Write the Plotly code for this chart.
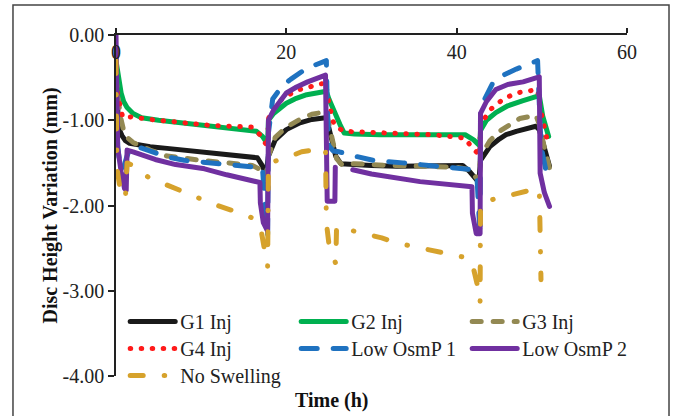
import plotly.graph_objects as go

# Axis ticks
time_ticks = [0, 20, 40, 60]
time_tick_text = ["0", "20", "40", "60"]
height_ticks = [0, -1, -2, -3, -4]
height_tick_text = ["0.00", "-1.00", "-2.00", "-3.00", "-4.00"]

# G1 Inj
g1_t = [0.0, 0.15, 0.35, 0.7, 1.1, 1.6, 2.5, 4, 6, 8, 10, 12, 14, 16, 16.6, 17.1, 17.6, 17.9,
        18.7, 20, 21.6, 23, 24.6, 24.9, 25.3, 25.8, 26.4, 27.5, 30, 33, 36, 38, 40.7, 41.5,
        42.6, 42.8, 43.9, 45, 45.8, 47, 47.8, 49.3, 49.7, 50.3, 50.9]
g1_v = [-0.55, -0.95, -1.10, -1.18, -1.24, -1.27, -1.29, -1.31, -1.33, -1.35, -1.37, -1.39,
        -1.40, -1.42, -1.44, -1.52, -1.63, -1.42, -1.23, -1.11, -1.03, -0.99, -0.97, -1.05,
        -1.22, -1.42, -1.51, -1.52, -1.53, -1.54, -1.54, -1.54, -1.53, -1.60, -1.73, -1.47,
        -1.31, -1.22, -1.17, -1.13, -1.11, -1.07, -1.11, -1.33, -1.54]

# G2 Inj
g2_t = [0.0, 0.3, 0.6, 0.9, 1.3, 2, 3, 5, 7.7, 10, 13, 15.7, 16.5, 17.2, 17.8, 17.9, 18.5, 20,
        21, 22.4, 23.5, 24.7, 25.0, 25.6, 26.3, 26.8, 28, 31, 35.7, 41, 42, 42.7, 42.8, 43.5,
        44.6, 46, 47.8, 49.7, 50.1, 50.8]
g2_v = [-0.3, -0.55, -0.68, -0.78, -0.85, -0.92, -0.97, -1.0, -1.03, -1.06, -1.09, -1.11,
        -1.13, -1.19, -1.28, -1.0, -0.92, -0.80, -0.75, -0.70, -0.68, -0.66, -0.75, -0.90,
        -1.05, -1.15, -1.16, -1.17, -1.17, -1.17, -1.23, -1.30, -1.12, -1.0, -0.91, -0.83,
        -0.77, -0.71, -0.95, -1.19]

# G3 Inj
g3_t = [0.0, 0.2, 0.5, 0.9, 1.3, 2, 3, 4, 6, 8, 10, 12, 14, 16, 16.8, 17.6, 17.9, 18.7, 20,
        21.6, 23, 24.6, 24.9, 25.4, 25.9, 26.5, 28, 32, 36, 40, 41.5, 42.6, 42.8, 43.9, 45,
        45.8, 47.4, 49.3, 49.7, 50.3, 50.9]
g3_v = [-0.5, -0.75, -0.95, -1.12, -1.20, -1.26, -1.31, -1.35, -1.42, -1.45, -1.47, -1.49,
        -1.51, -1.53, -1.57, -1.68, -1.42, -1.20, -1.08, -0.99, -0.93, -0.90, -1.0, -1.25,
        -1.45, -1.52, -1.51, -1.53, -1.54, -1.55, -1.58, -1.71, -1.42, -1.24, -1.13, -1.08,
        -0.98, -0.94, -1.05, -1.32, -1.56]

# G4 Inj
g4_t = [0.0, 0.3, 0.8, 1.8, 4, 7, 11, 15.9, 16.9, 17.8, 17.9, 18.4, 19.5, 21.2, 23, 24.6,
        25.0, 25.6, 26.7, 30.6, 37.2, 41, 41.7, 42.7, 42.8, 44, 45.5, 47, 48.5, 49.5, 49.8,
        50.6]
g4_v = [-0.55, -0.75, -0.97, -0.96, -0.99, -1.02, -1.06, -1.08, -1.17, -1.31, -0.98, -0.88,
        -0.75, -0.65, -0.60, -0.56, -0.80, -1.05, -1.13, -1.15, -1.17, -1.21, -1.31, -1.41,
        -1.05, -0.87, -0.75, -0.68, -0.65, -0.64, -0.85, -1.22]

# Low OsmP 1
lo1_t = [0.0, 0.2, 0.5, 0.8, 1.2, 1.6, 2.2, 4, 6, 8, 10, 13, 16.5, 17.2, 17.5, 17.8, 17.9,
         18.4, 19.5, 20.5, 22.4, 24.0, 24.7, 24.8, 25.0, 25.5, 26.2, 28, 30.2, 33.7, 37.6,
         40.7, 41.8, 42.4, 42.6, 42.75, 42.8, 43.3, 44.2, 45.5, 47, 48.2, 49.5, 49.7, 49.9,
         50.3, 50.6]
lo1_v = [-0.5, -1.3, -1.55, -1.58, -1.45, -1.33, -1.30, -1.36, -1.43, -1.47, -1.49, -1.51,
         -1.545, -1.56, -2.0, -2.35, -1.15, -0.75, -0.60, -0.52, -0.39, -0.32, -0.30, -0.8,
         -1.3, -1.36, -1.37, -1.42, -1.47, -1.50, -1.54, -1.56, -1.58, -1.70, -2.0, -2.35,
         -0.92, -0.75, -0.57, -0.47, -0.40, -0.35, -0.30, -0.8, -1.3, -1.5, -1.65]

# Low OsmP 2
lo2_t = [0.0, 0.1, 0.2, 0.6, 1.0, 1.2, 1.3, 2, 4.6, 7, 10.4, 13, 16.5, 16.9, 16.95, 17.3,
         17.8, 17.9, 18.5, 20, 21.2, 22.5, 24.6, 24.7, 24.8, 25.7, 25.75, None, 27.8, 30,
         35.7, 41.1, 41.8, 41.85, 42.3, 42.75, 42.8, 43.5, 44.6, 46, 47.8, 49.7, 49.75, 49.8,
         50.3, 50.9]
lo2_v = [0.0, -1.0, -1.33, -1.6, -1.8, -1.82, -1.35, -1.37, -1.46, -1.52, -1.57, -1.64,
         -1.72, -1.73, -1.97, -2.2, -2.3, -1.0, -0.88, -0.68, -0.61, -0.55, -0.47, -1.4,
         -1.95, -1.95, -1.55, None, -1.58, -1.63, -1.72, -1.78, -1.78, -2.09, -2.33, -2.33,
         -0.92, -0.78, -0.64, -0.58, -0.55, -0.49, -1.2, -1.62, -1.85, -2.01]

# No Swelling
ns_t = [0.0, 0.1, 0.5, 1.1, 1.3, 2.4, 3.8, 6.6, 8.9, 11.6, 15.2, 16.5, 17.0, 17.4, 17.8,
        17.9, 19.8, 21.8, 23.9, 24.6, 24.7, 25.0, 25.4, 25.8, 25.9, 28.9, 31.2, 33, 35, 37.4,
        40, 41.5, 42.0, 42.4, 42.75, 42.8, 43.8, 46, 48.3, 49.7, 49.75, 49.8, 49.9]
ns_v = [-0.3, -1.55, -1.82, -1.92, -1.5, -1.55, -1.67, -1.78, -1.88, -1.99, -2.11, -2.17,
        -2.27, -2.5, -2.72, -1.5, -1.45, -1.37, -1.35, -1.33, -2.2, -2.45, -2.58, -2.68,
        -2.25, -2.32, -2.38, -2.44, -2.48, -2.54, -2.58, -2.62, -2.75, -2.92, -3.14, -1.97,
        -1.94, -1.88, -1.83, -1.80, -2.05, -2.5, -2.87]

FONT = '"Liberation Serif", "Times New Roman", serif'
LW = 5

# one legend per row, three entries across
series = [
    ("G1 Inj", g1_t, g1_v, "#1a1a1a", "solid", "legend"),
    ("G2 Inj", g2_t, g2_v, "#00b050", "solid", "legend"),
    ("G3 Inj", g3_t, g3_v, "#938953", "9px,12px", "legend"),
    ("G4 Inj", g4_t, g4_v, "#ff1a1a", "0.5px,10.5px", "legend2"),
    ("Low OsmP 1", lo1_t, lo1_v, "#1f72c0", "16px,16px", "legend2"),
    ("Low OsmP 2", lo2_t, lo2_v, "#7030a0", "solid", "legend2"),
    ("No Swelling", ns_t, ns_v, "#d6a22c", "13px,21px,0.5px,21px", "legend3"),
]

fig = go.Figure()
for name, t, v, color, dash, leg in series:
    fig.add_trace(go.Scatter(
        x=t, y=v, name=name, mode="lines", connectgaps=False,
        line=dict(color=color, width=LW, dash=dash),
        legend=leg,
    ))

legend_common = dict(
    orientation="h", xanchor="left", yanchor="top", bgcolor="rgba(0,0,0,0)",
    font=dict(family=FONT, size=20, color="#222"), itemwidth=45,
    entrywidth=111, x=0.018,
)
fig.update_layout(
    width=673, height=416,
    margin=dict(l=116, r=46, t=35, b=40),
    paper_bgcolor="white", plot_bgcolor="white",
    font=dict(family=FONT, size=20, color="#222"),
    legend=dict(y=0.217, **legend_common),
    legend2=dict(y=0.138, **legend_common),
    legend3=dict(y=0.059, **legend_common),
    xaxis=dict(
        range=[0, 60], side="top", tickvals=time_ticks, ticktext=time_tick_text,
        ticks="outside", ticklen=5, tickwidth=1.5, tickcolor="#222",
        ticklabelstandoff=-39, showgrid=False, zeroline=False,
        showline=True, linecolor="#222", linewidth=1.5,
        tickfont=dict(family=FONT, size=20, color="#222"),
    ),
    yaxis=dict(
        range=[-4, 0], tickvals=height_ticks, ticktext=height_tick_text,
        ticks="outside", ticklen=6, tickwidth=1.5, tickcolor="#222",
        showgrid=False, zeroline=False, showline=True, linecolor="#222", linewidth=1.5,
        tickfont=dict(family=FONT, size=20, color="#222"),
        title=dict(text="<b>Disc Height Variation (mm)</b>", standoff=0,
                   font=dict(family=FONT, size=20, color="#111")),
    ),
    annotations=[dict(
        text="<b>Time (h)</b>", xref="paper", yref="paper", x=0.423, y=-0.072,
        xanchor="center", yanchor="middle", showarrow=False,
        font=dict(family=FONT, size=20, color="#111"),
    )],
    shapes=[dict(
        type="rect", xref="paper", yref="paper", x0=-0.2016, x1=1.0822,
        y0=-0.2, y1=1.088, line=dict(color="#444", width=1.5), layer="below",
    )],
)

# rounded line ends give the dotted and dashed styles their soft look
css = ("var s=document.createElement('style');"
       "s.textContent='.js-line{stroke-linecap:round;stroke-linejoin:round}';"
       "document.head.appendChild(s);")
fig.write_html("out.html", post_script=css)
